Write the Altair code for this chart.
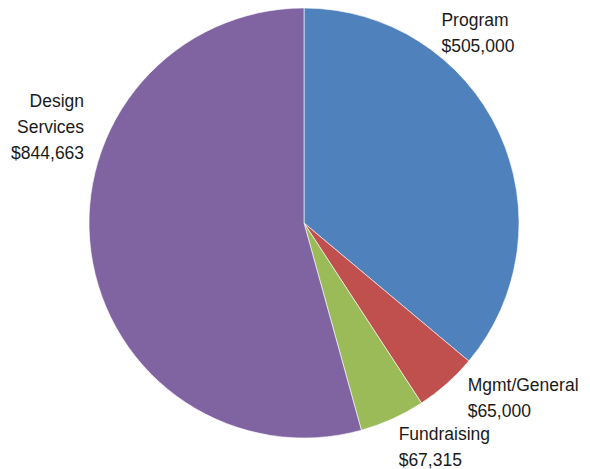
import altair as alt
import pandas as pd

categories = ["Program", "Mgmt/General", "Fundraising", "Design Services"]
label_lines = [
    ["Program", "$505,000"],
    ["Mgmt/General", "$65,000"],
    ["Fundraising", "$67,315"],
    ["Design", "Services", "$844,663"],
]
amounts = [505000, 65000, 67315, 844663]
# slice shares (percent of the circle)
shares = [36.1, 4.7, 4.9, 54.3]
colors = ["#4F81BD", "#C0504D", "#9BBB59", "#8064A2"]

df = pd.DataFrame({
    "category": categories,
    "share": shares,
    "amount": amounts,
    "order": list(range(len(categories))),
    "label": ["\n".join(l) for l in label_lines],
})

FONT = "Liberation Sans"

pie = alt.Chart(df).mark_arc(outerRadius=215, stroke="white", strokeWidth=0.6).encode(
    theta=alt.Theta("share:Q", stack=True, scale=alt.Scale(domain=[0, 100])),
    order=alt.Order("order:Q"),
    color=alt.Color("category:N", scale=alt.Scale(domain=categories, range=colors), legend=None),
)

text_base = alt.Chart(df).transform_window(
    cum="sum(share)", sort=[alt.SortField("order")], frame=[None, 0]
).transform_calculate(mid="datum.cum - datum.share / 2")

# label placement relative to slice mid-angle: (align, dx, dy)
placement = {
    "Program": ("left", -71, -100),
    "Mgmt/General": ("left", 11, -4),
    "Fundraising": ("left", 0, 7),
    "Design Services": ("right", 8, -147),
}

layers = [pie]
for cat in categories:
    align, dx, dy = placement[cat]
    layers.append(
        text_base.transform_filter(alt.datum.category == cat).mark_text(
            radius=230, align=align, baseline="alphabetic", dx=dx, dy=dy,
            font=FONT, fontSize=17.5, lineBreak="\n", lineHeight=26, color="#1a1a1a",
        ).encode(
            theta=alt.Theta("mid:Q", stack=False, scale=alt.Scale(domain=[0, 100])),
            text="label:N",
        )
    )

chart = alt.layer(*layers).properties(
    width=572, height=446,
    autosize=alt.AutoSizeParams(type="none"),
    padding={"left": 18, "top": 0, "right": 0, "bottom": 23},
    background="white",
).configure_view(strokeWidth=0)

chart.save("out.html", embed_options={"renderer": "svg", "actions": False})
